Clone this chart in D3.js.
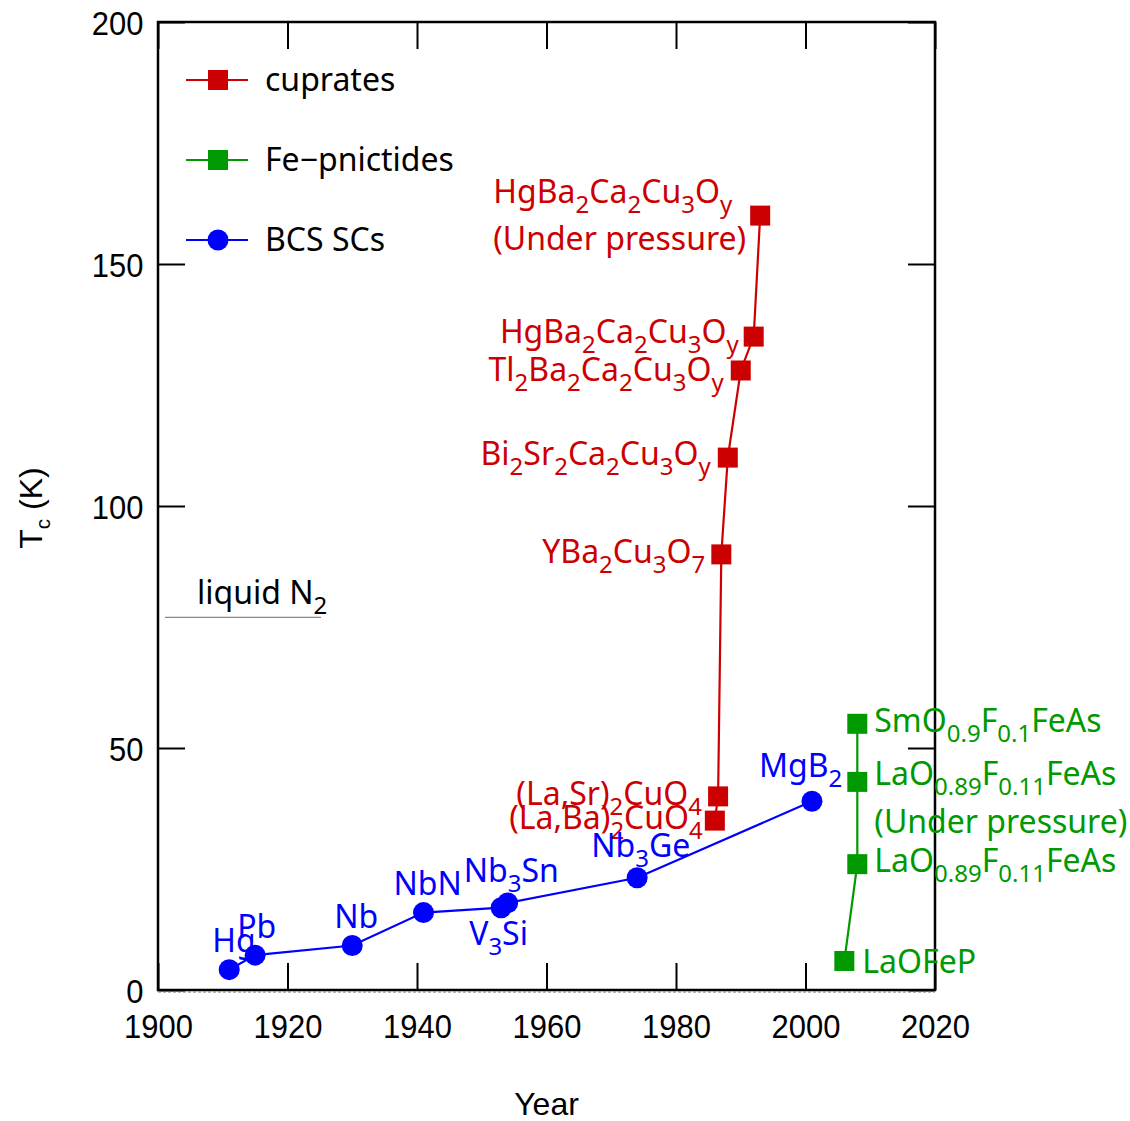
<!DOCTYPE html>
<html>
<head>
<meta charset="utf-8">
<script src="https://cdn.jsdelivr.net/npm/d3@7"></script>
<style>
  body { margin: 0; background: #fff; }
  .tick text { font-family: "Liberation Sans", Arial, sans-serif; font-size: 34px; fill: #000; }
  .lbl { font-family: "Noto Sans", "Open Sans", sans-serif; font-size: 32px; }
</style>
</head>
<body>
<div id="chart"></div>
<script>
// data: [year, Tc in K]
const cuprateNames = ["(La,Ba){2}CuO{4}", "(La,Sr){2}CuO{4}", "YBa{2}Cu{3}O{7}", "Bi{2}Sr{2}Ca{2}Cu{3}O{y}",
    "Tl{2}Ba{2}Ca{2}Cu{3}O{y}", "HgBa{2}Ca{2}Cu{3}O{y}", "HgBa{2}Ca{2}Cu{3}O{y}|(Under pressure)"];
const cuprateYears = [1986, 1986.5, 1987, 1988, 1990, 1992, 1993];
const cuprateTc = [35, 40, 90, 110, 128, 135, 160];

const pnictideNames = ["LaOFeP", "LaO{0.89}F{0.11}FeAs", "LaO{0.89}F{0.11}FeAs|(Under pressure)", "SmO{0.9}F{0.1}FeAs"];
const pnictideYears = [2006, 2008, 2008, 2008];
const pnictideTc = [6, 26, 43, 55];

const bcsNames = ["Hg", "Pb", "Nb", "NbN", "V{3}Si", "Nb{3}Sn", "Nb{3}Ge", "MgB{2}"];
const bcsYears = [1911, 1915, 1930, 1941, 1953, 1954, 1974, 2001];
const bcsTc = [4.2, 7.2, 9.2, 16, 17, 18, 23.2, 39];

const legendNames = ["cuprates", "Fe\u2212pnictides", "BCS SCs"];
const xTicks = [1900, 1920, 1940, 1960, 1980, 2000, 2020];
const yTicks = [0, 50, 100, 150, 200];
const liquidN2 = 77;

// label placement (px offsets from the marker, per line)
const cuprateLabelPos = [[[-12, 8]], [[-16, 9]], [[-16, 9]], [[-17, 7]], [[-17, 11]], [[-15, 6]], [[-28, -13], [-14, 34]]];
const pnictideLabelPos = [[[18, 12]], [[17, 8]], [[17, 3], [17, 51]], [[17, 8]]];
const bcsLabelPos = [[[-17, -18]], [[-18, -17]], [[-18, -17]], [[-30, -18]], [[-32, 37]], [[-44, -21]], [[-46, -21]], [[-53, -24]]];

const W = 1130, H = 1121;
const margin = { left: 158, right: 195, top: 22, bottom: 131 };

const svg = d3.select("#chart").append("svg").attr("width", W).attr("height", H);

const x = d3.scaleLinear().domain([1900, 2020]).range([margin.left, W - margin.right]);
const y = d3.scaleLinear().domain([0, 200]).range([H - margin.bottom, margin.top]);

const series = [
    { color: "#cc0000", shape: "square", names: cuprateNames, years: cuprateYears, tc: cuprateTc, pos: cuprateLabelPos, anchor: "end" },
    { color: "#009900", shape: "square", names: pnictideNames, years: pnictideYears, tc: pnictideTc, pos: pnictideLabelPos, anchor: "start" },
    { color: "#0000ff", shape: "circle", names: bcsNames, years: bcsYears, tc: bcsTc, pos: bcsLabelPos, anchor: "start" },
];

// "{..}" marks a subscript
function writeFormula(text, str) {
    const parts = str.split(/(\{[^}]*\})/).filter(s => s.length);
    let sub = false;
    parts.forEach(p => {
        if (p[0] === "{") {
            text.append("tspan").attr("font-size", "0.75em").attr("dy", sub ? 0 : 10).text(p.slice(1, -1));
            sub = true;
        } else {
            text.append("tspan").attr("dy", sub ? -10 : 0).text(p);
            sub = false;
        }
    });
}

function drawMarker(g, shape, color, cx, cy) {
    if (shape === "square") {
        g.append("rect").attr("x", cx - 10).attr("y", cy - 10).attr("width", 20).attr("height", 20).attr("fill", color);
    } else {
        g.append("circle").attr("cx", cx).attr("cy", cy).attr("r", 10.5).attr("fill", color);
    }
}

// axes: bottom / left with labels, top / right ticks only, all inward
const tickLen = 27;
const gx = svg.append("g").attr("transform", `translate(0,${y(0)})`)
    .call(d3.axisBottom(x).tickValues(xTicks).tickFormat(d3.format("d")).tickSizeInner(-tickLen).tickSizeOuter(0).tickPadding(24));
const gxt = svg.append("g").attr("transform", `translate(0,${y(200)})`)
    .call(d3.axisTop(x).tickValues(xTicks).tickFormat("").tickSizeInner(-tickLen).tickSizeOuter(0));
const gy = svg.append("g").attr("transform", `translate(${x(1900)},0)`)
    .call(d3.axisLeft(y).tickValues(yTicks).tickSizeInner(-tickLen).tickSizeOuter(0).tickPadding(16));
const gyr = svg.append("g").attr("transform", `translate(${x(2020)},0)`)
    .call(d3.axisRight(y).tickValues(yTicks).tickFormat("").tickSizeInner(-tickLen).tickSizeOuter(0));
[gx, gxt, gy, gyr].forEach(g => {
    g.select(".domain").remove();
    g.selectAll(".tick line").attr("stroke", "#000").attr("stroke-width", 2);
});
gy.selectAll(".tick text").attr("dy", "0.36em");
// the original tick font is a slightly condensed sans
gx.selectAll(".tick text").attr("transform", "scale(0.91,1)");
gy.selectAll(".tick text").attr("transform", "scale(0.91,1)");

svg.append("rect").attr("x", x(1900)).attr("y", y(200))
    .attr("width", x(2020) - x(1900)).attr("height", y(0) - y(200))
    .attr("fill", "none").attr("stroke", "#000").attr("stroke-width", 2.5);
svg.append("line").attr("x1", x(1900)).attr("x2", x(2020)).attr("y1", y(0) + 2).attr("y2", y(0) + 2)
    .attr("stroke", "#777").attr("stroke-width", 1).attr("stroke-dasharray", "3,2");

// axis titles
svg.append("text").attr("x", (x(1900) + x(2020)) / 2).attr("y", 1115).attr("text-anchor", "middle")
    .attr("font-family", "Liberation Sans, Arial, sans-serif").attr("font-size", 32).text("Year");
const yt = svg.append("text").attr("transform", "translate(42,508) rotate(-90)").attr("text-anchor", "middle")
    .attr("font-family", "Liberation Sans, Arial, sans-serif").attr("font-size", 32);
yt.append("tspan").text("T");
yt.append("tspan").attr("font-size", "0.65em").attr("dy", 8).text("c");
yt.append("tspan").attr("dy", -8).text(" (K)");

// liquid nitrogen line
svg.append("line").attr("x1", 165).attr("x2", 321).attr("y1", y(liquidN2)).attr("y2", y(liquidN2))
    .attr("stroke", "#888").attr("stroke-width", 1.2);
const ln = svg.append("text").attr("class", "lbl").attr("x", 197).attr("y", y(liquidN2) - 13).attr("fill", "#000");
writeFormula(ln, "liquid N{2}");

// series
const line = d3.line().x(d => x(d[0])).y(d => y(d[1]));
series.forEach(s => {
    const pts = s.years.map((yr, i) => [yr, s.tc[i]]);
    const g = svg.append("g");
    g.append("path").attr("d", line(pts)).attr("fill", "none").attr("stroke", s.color).attr("stroke-width", 2.2);
    pts.forEach(p => drawMarker(g, s.shape, s.color, x(p[0]), y(p[1])));
    pts.forEach((p, i) => {
        s.names[i].split("|").forEach((txt, k) => {
            const off = s.pos[i][k];
            const t = g.append("text").attr("class", "lbl").attr("fill", s.color)
                .attr("x", x(p[0]) + off[0]).attr("y", y(p[1]) + off[1]).attr("text-anchor", s.anchor);
            writeFormula(t, txt);
        });
    });
});

// legend
const legendY = [80, 160, 240];
series.forEach((s, i) => {
    const g = svg.append("g");
    g.append("line").attr("x1", 186).attr("x2", 248).attr("y1", legendY[i]).attr("y2", legendY[i])
        .attr("stroke", s.color).attr("stroke-width", 2.2);
    drawMarker(g, s.shape, s.color, 218, legendY[i]);
    g.append("text").attr("class", "lbl").attr("x", 265).attr("y", legendY[i] + 11).attr("fill", "#000").text(legendNames[i]);
});
</script>
</body>
</html>
